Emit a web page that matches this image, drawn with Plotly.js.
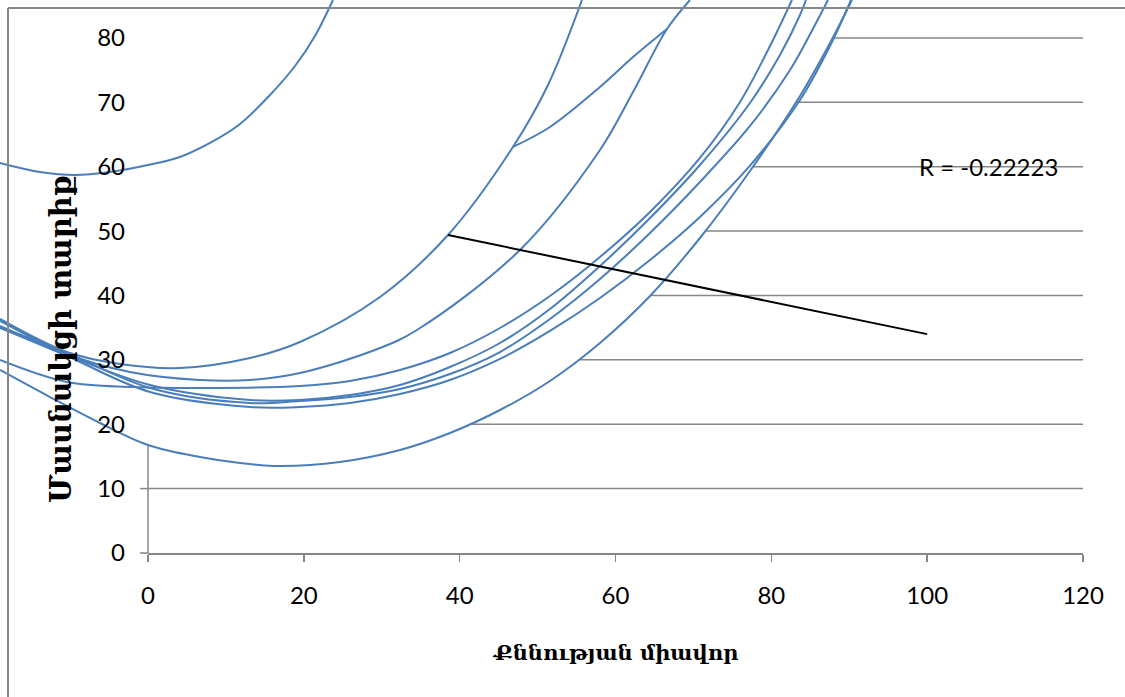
<!DOCTYPE html>
<html><head><meta charset="utf-8">
<script src="https://cdn.plot.ly/plotly-3.0.1.min.js"></script>
<style>html,body{margin:0;padding:0;background:#fff}#chart{width:1125px;height:697px}</style>
</head><body><div id="chart"></div>
<script>
// ---- data ----
const xTicks = [0, 20, 40, 60, 80, 100, 120];
const yTicks = [0, 10, 20, 30, 40, 50, 60, 70, 80];

const seriesT_x = [-18.99, -13.86, -9.37, -4.88, 0, 4.11, 7.96, 11.81, 15.66, 18.87, 21.43, 23.74];
const seriesT_y = [60.58, 59.18, 58.72, 59.18, 60.27, 61.51, 63.69, 66.64, 71.15, 75.65, 80.31, 85.90];

const seriesA_x = [-18.99, -10.40, -3.59, 4.11, 13.09, 19.51, 29.78, 38.50, 46.84, 51.34, 55.70];
const seriesA_y = [36.35, 31.22, 29.36, 28.74, 30.29, 32.78, 39.77, 49.40, 63.07, 72.70, 85.90];

const seriesB_x = [-18.99, -10.40, -2.31, 6.67, 13.09, 19.51, 29.78, 34.52, 47.74, 58.01, 62.25, 66.61, 69.56];
const seriesB_y = [36.04, 30.91, 28.12, 26.87, 26.87, 27.96, 31.84, 34.64, 47.07, 62.60, 71.61, 81.40, 85.90];

const seriesLink_x = [46.84, 51.59, 58.01, 62.25, 66.61];
const seriesLink_y = [63.07, 66.17, 72.39, 77.05, 81.40];

const seriesC_x = [-18.99, -10.40, -1.93, 9.24, 19.51, 25.92, 32.34, 38.76, 45.18, 51.59, 58.01, 64.43, 70.84, 75.98, 79.83, 82.65];
const seriesC_y = [29.98, 26.56, 25.79, 25.63, 25.94, 26.72, 28.43, 31.07, 34.95, 39.92, 45.98, 52.97, 61.36, 70.06, 78.76, 85.90];

const seriesD_x = [-18.99, -10.40, 0.26, 13.09, 19.51, 25.92, 32.34, 38.76, 45.18, 51.59, 58.01, 64.43, 70.84, 77.26, 81.11, 83.68, 84.45];
const seriesD_y = [35.26, 30.76, 26.10, 23.77, 23.77, 24.54, 26.10, 28.89, 32.62, 37.90, 44.58, 52.04, 60.27, 69.90, 77.36, 83.57, 85.90];

const seriesE_x = [-18.99, -10.40, 0.26, 13.09, 19.51, 25.92, 32.34, 38.76, 45.18, 51.59, 58.01, 64.43, 70.84, 77.26, 82.40, 85.60, 87.27];
const seriesE_y = [35.11, 31.07, 25.63, 23.30, 23.61, 24.23, 25.48, 27.81, 31.22, 36.35, 42.56, 49.71, 57.63, 66.33, 75.03, 82.02, 85.90];

const seriesF_x = [-18.99, -10.40, 0.26, 13.09, 19.51, 25.92, 32.34, 38.76, 45.18, 51.59, 58.01, 64.43, 70.84, 77.26, 83.68, 87.53, 90.22];
const seriesF_y = [34.95, 30.60, 25.01, 22.68, 22.68, 23.30, 24.70, 26.87, 30.14, 34.49, 39.61, 45.51, 52.19, 60.16, 70.37, 78.76, 85.90];

const seriesL_x = [-18.99, -12.58, -6.16, 0, 6.67, 11.81, 16.94, 24.64, 32.34, 38.76, 45.18, 51.59, 58.01, 64.43, 70.84, 77.26, 83.68, 87.53, 90.35];
const seriesL_y = [28.43, 24.23, 20.19, 16.78, 14.91, 13.98, 13.51, 14.14, 16.00, 18.64, 22.21, 26.72, 32.62, 39.92, 48.93, 59.34, 70.99, 79.22, 85.90];

const trend_x = [38.5, 100.0];
const trend_y = [49.4, 34.0];
const trendLabel = "R = -0.22223";

const xTitle = "Քննության միավոր";
const yTitle = "Մասնակցի տարիք";

// ---- layout geometry ----
const W = 1125, H = 697;
const fullX = [-18.99, 125.39];
const fullY = [-22.37, 85.90];
const blue = 'rgb(74,126,187)';
const grey = '#868686';

const curves = [
  [seriesT_x, seriesT_y], [seriesA_x, seriesA_y], [seriesB_x, seriesB_y],
  [seriesLink_x, seriesLink_y], [seriesC_x, seriesC_y], [seriesD_x, seriesD_y],
  [seriesE_x, seriesE_y], [seriesF_x, seriesF_y], [seriesL_x, seriesL_y]
];

const traces = [];
// white cover above the lowest curve (hides the grid there, as in the reference)
traces.push({x: [fullX[0] - 5, fullX[1]], y: [fullY[1] + 5, fullY[1] + 5], mode: 'lines',
  line: {width: 0}, hoverinfo: 'skip', showlegend: false, xaxis: 'x', yaxis: 'y'});
traces.push({x: seriesL_x, y: seriesL_y, mode: 'lines', line: {width: 0, shape: 'spline'},
  fill: 'tonexty', fillcolor: '#ffffff', hoverinfo: 'skip', showlegend: false, xaxis: 'x', yaxis: 'y'});

curves.forEach(c => traces.push({x: c[0], y: c[1], mode: 'lines',
  line: {color: blue, width: 2, shape: 'spline', smoothing: 1}, showlegend: false, xaxis: 'x', yaxis: 'y'}));

traces.push({x: trend_x, y: trend_y, mode: 'lines', line: {color: '#000', width: 2},
  showlegend: false, xaxis: 'x2', yaxis: 'y2'});

const shapes = [];
yTicks.forEach(v => {
  if (v > 0) shapes.push({type: 'line', xref: 'x', yref: 'y', x0: xTicks[0], x1: xTicks[xTicks.length - 1], y0: v, y1: v,
    layer: 'below', line: {color: grey, width: 1.5}});
  shapes.push({type: 'line', xref: 'x', yref: 'y', x0: -1.03, x1: 0, y0: v, y1: v, layer: 'below', line: {color: grey, width: 1.5}});
});
shapes.push({type: 'line', xref: 'x', yref: 'y', x0: 0, x1: 0, y0: 0, y1: yTicks[yTicks.length - 1], layer: 'below', line: {color: grey, width: 1.5}});
// chart-area border
shapes.push({type: 'line', xref: 'paper', yref: 'paper', x0: 8 / W, x1: 1.01, y0: 1 - 8 / H, y1: 1 - 8 / H, layer: 'above', line: {color: grey, width: 2}});
shapes.push({type: 'line', xref: 'paper', yref: 'paper', x0: 8 / W, x1: 8 / W, y0: 1 - 8 / H, y1: -0.01, layer: 'above', line: {color: grey, width: 2}});

const tickFont = {family: 'Lato, sans-serif', size: 24, color: '#000'};

const layout = {
  width: W, height: H,
  margin: {l: 0, r: 0, t: 0, b: 0},
  paper_bgcolor: '#fff', plot_bgcolor: 'rgba(0,0,0,0)',
  showlegend: false,
  xaxis: {domain: [0, 1], range: fullX, visible: false, fixedrange: true},
  yaxis: {domain: [0, 1], range: fullY, visible: false, fixedrange: true},
  xaxis2: {domain: [148 / W, 1083 / W], range: [0, 120], anchor: 'y2', tickvals: xTicks,
    ticks: 'outside', ticklen: 7, tickwidth: 1.5, tickcolor: grey, showline: true, linecolor: grey, linewidth: 1.5,
    showgrid: false, zeroline: false, tickfont: tickFont, ticklabelstandoff: 14},
  yaxis2: {domain: [(H - 553) / H, (H - 38) / H], range: [0, 80], anchor: 'x2', tickvals: yTicks,
    ticks: '', showline: false, showgrid: false, zeroline: false, tickfont: tickFont, ticklabelstandoff: 22},
  shapes: shapes,
  annotations: [
    {text: trendLabel, xref: 'x2', yref: 'y2', x: 107.9, y: 60, showarrow: false, xanchor: 'center', yanchor: 'middle',
      font: {family: 'Lato, sans-serif', size: 24, color: '#000'}},
    {text: xTitle, xref: 'paper', yref: 'paper', x: 615 / W, y: 1 - 652 / H, showarrow: false, xanchor: 'center', yanchor: 'middle',
      font: {family: 'DejaVu Serif', size: 21, color: '#000', weight: 'bold'}},
    {text: yTitle, xref: 'paper', yref: 'paper', x: 61 / W, y: 1 - 339 / H, showarrow: false, xanchor: 'center', yanchor: 'middle',
      textangle: -90, font: {family: 'DejaVu Serif', size: 29, color: '#000', weight: 'bold'}}
  ]
};

Plotly.newPlot('chart', traces, layout, {displayModeBar: false, staticPlot: true});
</script></body></html>
